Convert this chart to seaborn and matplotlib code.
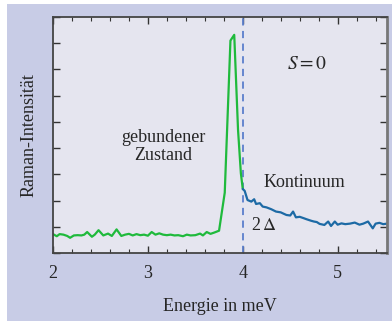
import numpy as np
import pandas as pd
import matplotlib
matplotlib.use("Agg")
import matplotlib.pyplot as plt
import seaborn as sns
from matplotlib.patches import Rectangle
from matplotlib.ticker import MultipleLocator, NullFormatter

# gebundener Zustand (gruen)
green_x = [2.00, 2.04, 2.07, 2.11, 2.15, 2.18, 2.22, 2.26, 2.30, 2.33, 2.36, 2.41, 2.44,
           2.48, 2.53, 2.58, 2.62, 2.67, 2.72, 2.76, 2.80, 2.84, 2.88, 2.92, 2.96, 3.00,
           3.04, 3.08, 3.12, 3.16, 3.20, 3.24, 3.28, 3.32, 3.37, 3.41, 3.45, 3.50, 3.55,
           3.58, 3.62, 3.66, 3.70, 3.75, 3.81, 3.87, 3.91, 3.95, 3.98, 4.00]
green_y = [0.72, 0.64, 0.72, 0.70, 0.65, 0.58, 0.67, 0.68, 0.67, 0.70, 0.80, 0.62, 0.70,
           0.87, 0.67, 0.74, 0.65, 0.90, 0.65, 0.70, 0.73, 0.67, 0.72, 0.68, 0.70, 0.66,
           0.80, 0.70, 0.75, 0.70, 0.68, 0.70, 0.67, 0.68, 0.64, 0.70, 0.67, 0.68, 0.74,
           0.67, 0.80, 0.73, 0.78, 0.85, 2.30, 8.10, 8.32, 4.70, 3.04, 2.44]

# Kontinuum (blau)
blue_x = [4.00, 4.02, 4.05, 4.09, 4.12, 4.14, 4.18, 4.21, 4.25, 4.30, 4.35, 4.40, 4.46,
          4.50, 4.53, 4.56, 4.60, 4.64, 4.67, 4.72, 4.75, 4.78, 4.81, 4.86, 4.90, 4.93,
          4.97, 5.00, 5.04, 5.08, 5.13, 5.18, 5.23, 5.27, 5.32, 5.37, 5.40, 5.44, 5.48, 5.52]
blue_y = [2.44, 2.37, 2.02, 1.96, 2.05, 1.87, 1.90, 1.77, 1.74, 1.67, 1.58, 1.55, 1.45,
          1.43, 1.58, 1.36, 1.38, 1.33, 1.29, 1.23, 1.20, 1.18, 1.11, 1.07, 1.20, 1.03,
          1.20, 1.08, 1.13, 1.10, 1.12, 1.16, 1.08, 1.12, 1.20, 0.94, 1.12, 1.15, 1.10, 1.12]

gap = 4.0  # 2 Delta

sns.set_style("ticks")
plt.rcParams["font.family"] = ["Liberation Serif", "DejaVu Serif"]
plt.rcParams["mathtext.fontset"] = "stix"

fig = plt.figure(figsize=(3.92, 3.21), dpi=100)
fig.patch.set_facecolor("white")
fig.patches.append(Rectangle((7 / 392, 0), 1, 1 - 4 / 321, transform=fig.transFigure,
                             facecolor="#c8cce6", edgecolor="none", zorder=-1))
ax = fig.add_axes([53 / 392, 68 / 321, 334 / 392, 236 / 321])
ax.set_facecolor("#e5e5ef")

green = pd.DataFrame({"x": green_x, "y": green_y})
blue = pd.DataFrame({"x": blue_x, "y": blue_y})
sns.lineplot(data=green, x="x", y="y", color="#1fba3c", lw=1.6, ax=ax, sort=False)
sns.lineplot(data=blue, x="x", y="y", color="#1d6aa5", lw=1.6, ax=ax, sort=False)
ax.axvline(gap, color="#5b7fcc", lw=1.3, ls=(0, (4, 3)), zorder=1)

ax.set_xlim(2, 5.52)
ax.set_ylim(0, 9)
ax.xaxis.set_major_locator(MultipleLocator(1))
ax.xaxis.set_minor_locator(MultipleLocator(0.2))
ax.yaxis.set_major_locator(MultipleLocator(1))
ax.yaxis.set_major_formatter(NullFormatter())
ax.tick_params(which="both", direction="in", top=True, right=True, color="#333333")
ax.tick_params(which="major", length=5, width=1, labelsize=13, pad=9)
ax.tick_params(which="minor", length=3, width=0.8)
for s in ax.spines.values():
    s.set_color("#444444")
    s.set_linewidth(1.3)
ax.spines["right"].set_color("#777777")
ax.spines["right"].set_linewidth(2)

ax.set_xlabel("Energie in meV", fontsize=13, labelpad=11)
ax.set_ylabel("Raman-Intensität", fontsize=13, labelpad=2)

ax.text(3.16, 4.05, "gebundener\nZustand", fontsize=13, ha="center", va="center",
        linespacing=1.1)
ax.text(4.68, 7.2, "$S = 0$", fontsize=14, ha="center", va="center")
ax.text(4.65, 2.7, "Kontinuum", fontsize=13, ha="center", va="center")
ax.text(4.22, 1.05, "2$\\,\\Delta$", fontsize=13, ha="center", va="center")

fig.savefig("out.png", dpi=100, facecolor=fig.get_facecolor())
